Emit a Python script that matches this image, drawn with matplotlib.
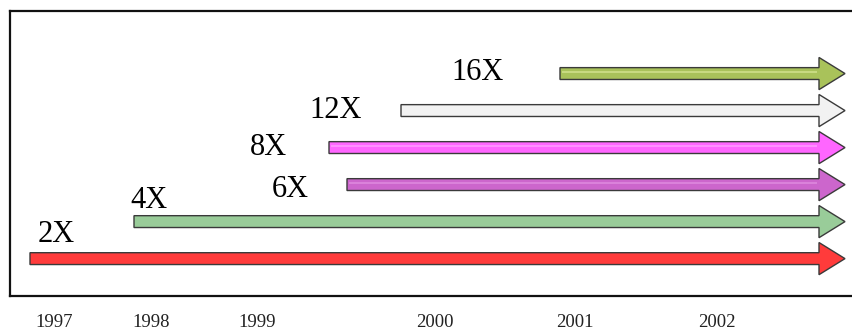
import matplotlib
matplotlib.use("Agg")
import matplotlib.pyplot as plt

# timeline positions of the year labels (chart units) and the labels
year_labels = ["1997", "1998", "1999", "2000", "2001", "2002"]
year_pos = [54, 151, 257, 435, 575, 717]

# arrows: speed label, start on timeline, row
speeds = ["2X", "4X", "6X", "8X", "12X", "16X"]
starts = [30, 134, 347, 329, 401, 560]
rows = [0, 1, 2, 3, 4, 5]
arrow_end = 845

colors = ["#ff3b3b", "#99cc99", "#cc66cc", "#ff66ff", "#f2f2f2", "#a9c25a"]
# lighter stripe along the shaft (None = plain fill)
stripes = [None, None, "#dd88dd", "#ff99ff", None, "#cfe08a"]

# label placement (x centre, row)
label_x = [56, 149, 290, 268, 336, 477]
label_y = [0.66, 1.58, 1.88, 3.01, 4.01, 5.04]

fig = plt.figure(figsize=(8.52, 3.31), dpi=100)
ax = fig.add_axes([10 / 852, 35 / 331, 842 / 852, 285 / 331])
ax.set_xlim(10, 852)
ax.set_ylim(-1.01, 6.69)

for s, r, c, st in zip(starts, rows, colors, stripes):
    ax.arrow(s, r, arrow_end - s, 0, width=0.32, head_width=0.87,
             head_length=26, length_includes_head=True,
             facecolor=c, edgecolor="#3a3a3a", linewidth=1.0, zorder=3)
    if st:
        ax.plot([s + 2, arrow_end - 28], [r + 0.03, r + 0.03], color=st,
                linewidth=1.2, zorder=4, solid_capstyle="butt")

for t, x, y in zip(speeds, label_x, label_y):
    ax.text(x, y, t, ha="center", va="center", fontsize=22,
            family="Liberation Serif", color="black")

ax.set_xticks(year_pos)
ax.set_xticklabels(year_labels, family="Liberation Serif", fontsize=13.5,
                   color="#222222")
ax.tick_params(axis="x", length=0, pad=13)
ax.set_yticks([])
for side in ["left", "top", "bottom"]:
    ax.spines[side].set_linewidth(1.6)
    ax.spines[side].set_color("#111111")
ax.spines["right"].set_visible(False)

fig.savefig("out.png", dpi=100)
